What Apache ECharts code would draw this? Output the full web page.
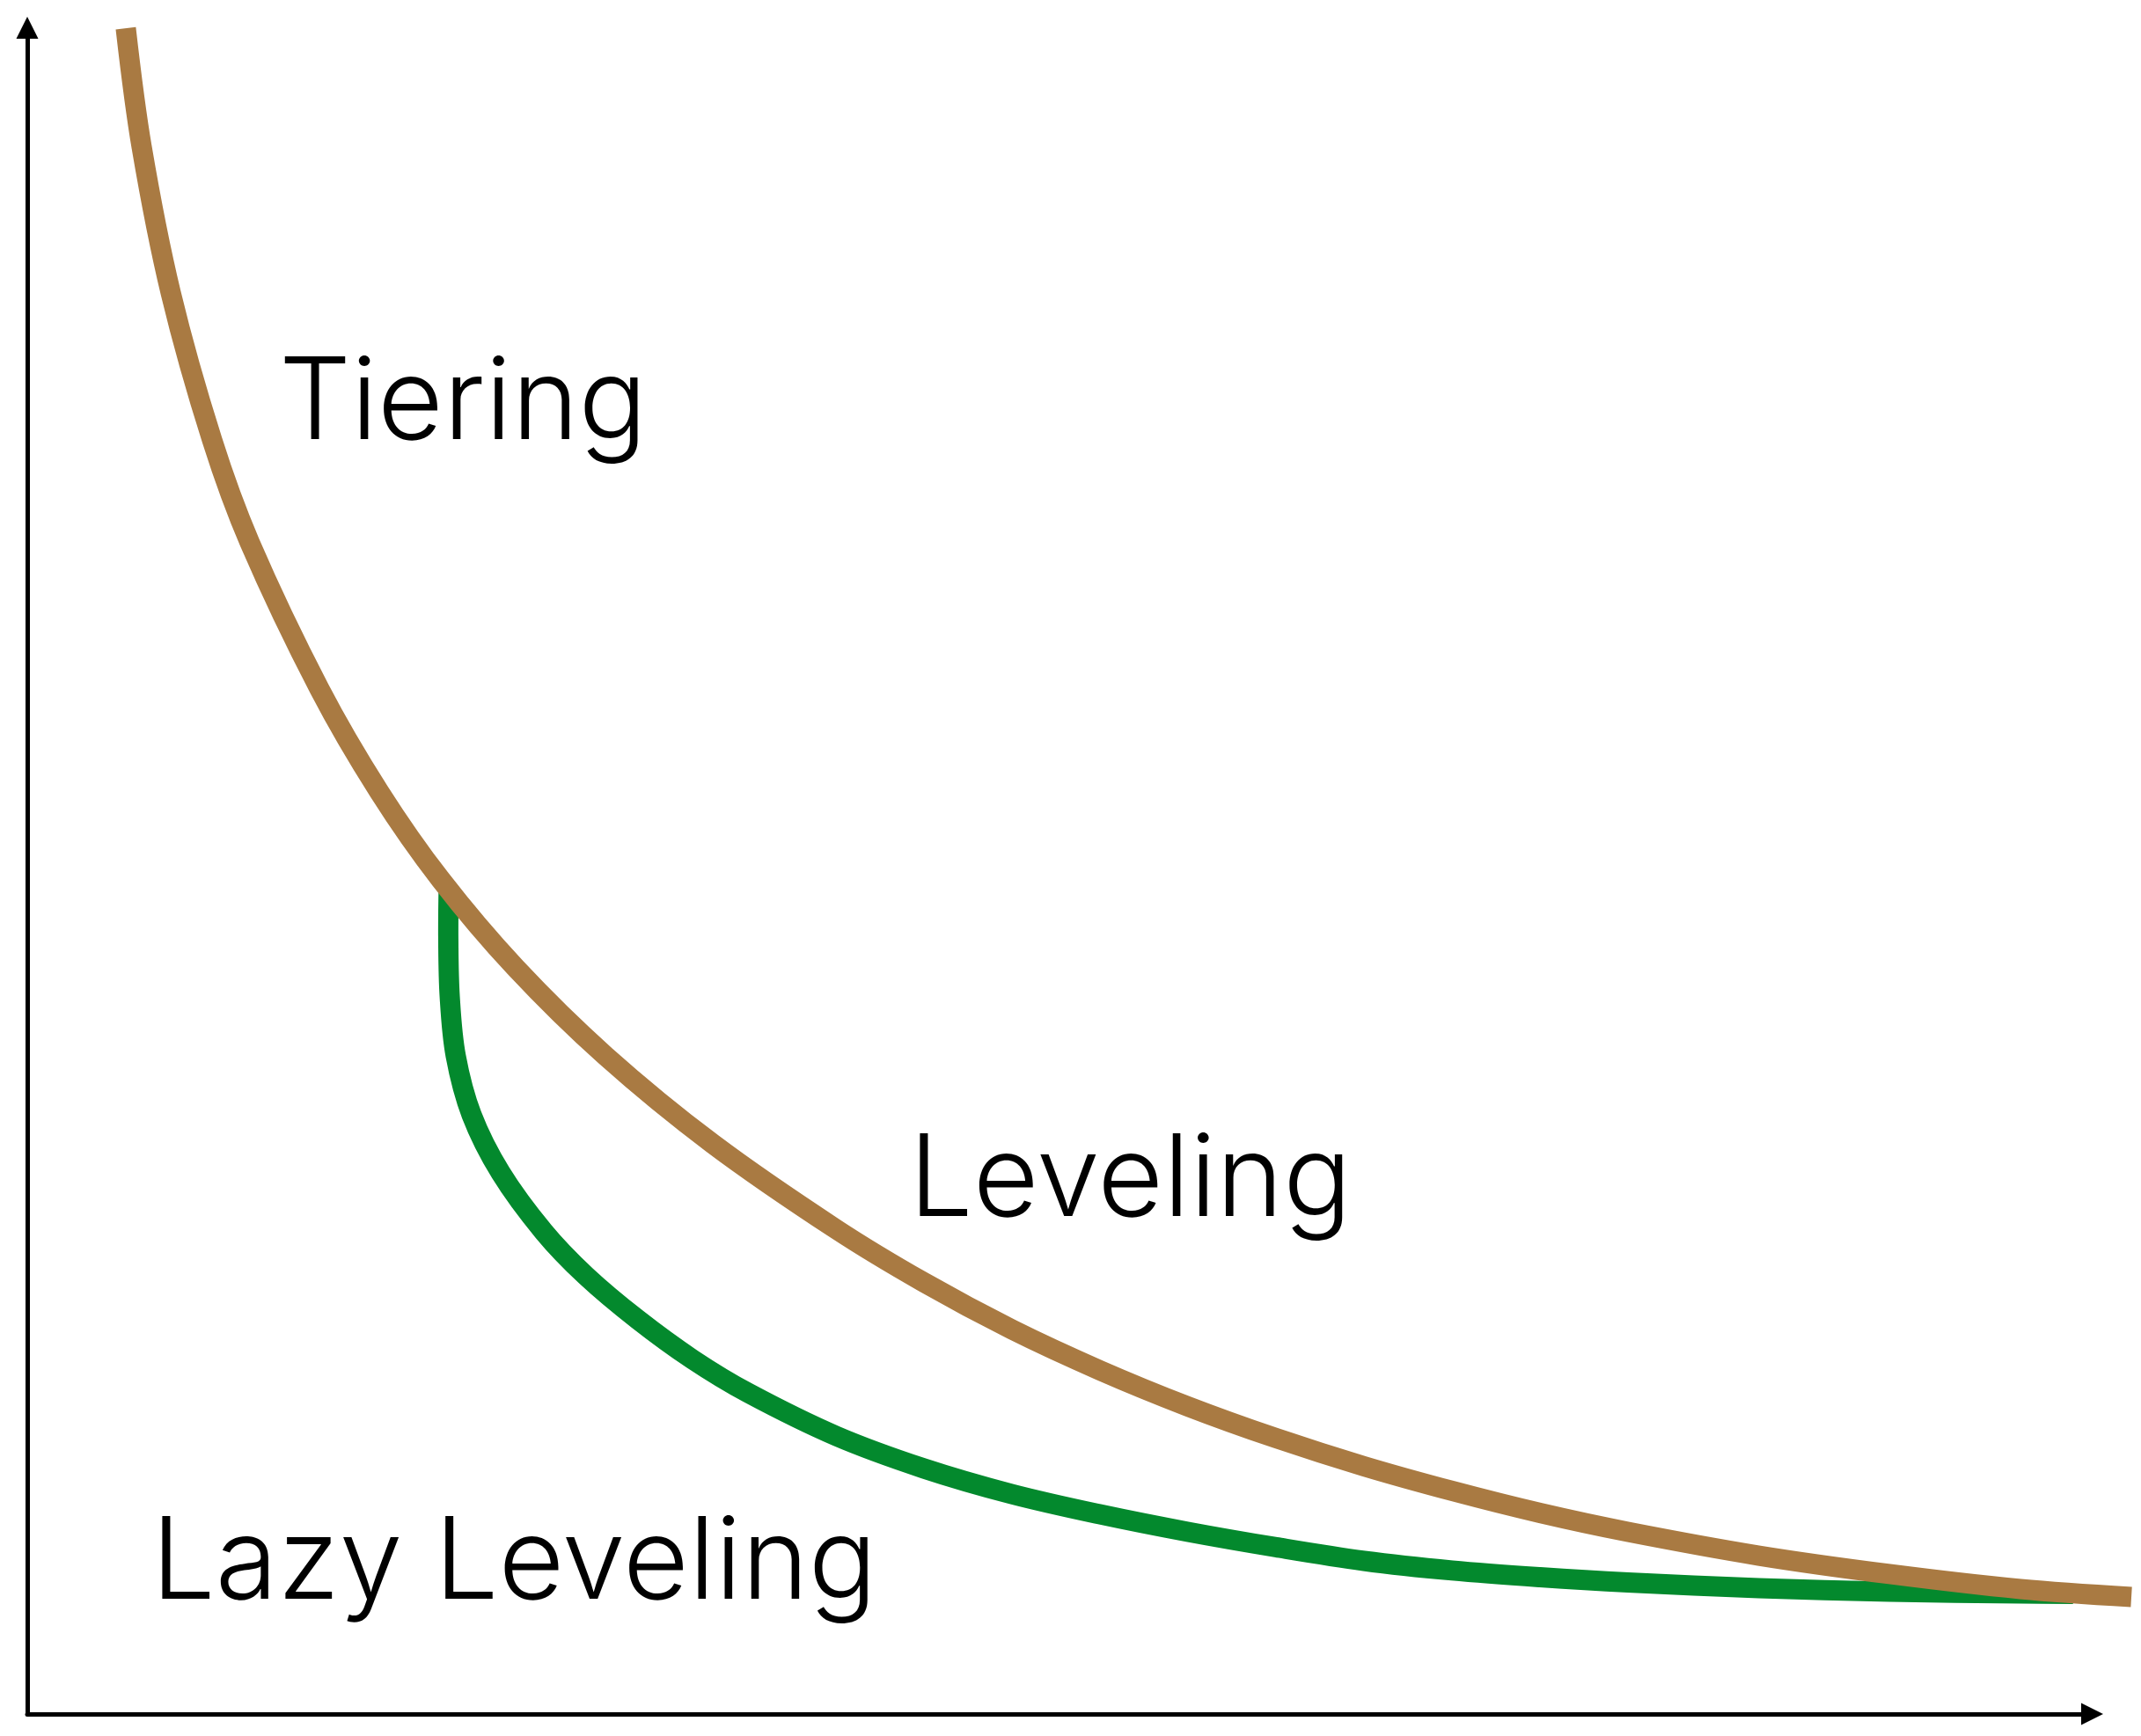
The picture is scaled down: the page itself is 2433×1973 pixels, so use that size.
<!DOCTYPE html>
<html lang="en">
<head>
    <meta charset="UTF-8">
    <title>Tiering / Leveling / Lazy Leveling</title>
    <script src="https://cdn.jsdelivr.net/npm/echarts@6/dist/echarts.min.js"></script>
    <style>
        html, body { margin: 0; padding: 0; background: #fff; }
    </style>
</head>
<body>
    <div id="box" style="width: 2433px; height: 1973px;"></div>
    <script>
        // values; both axes run 0..100 (no ticks shown)
        var levelingX = [4.77, 5.54, 6.95, 8.95, 10.78, 14.15, 17.05, 20.03, 23.65, 28.00, 33.20, 39.17, 43.43,
            47.69, 51.95, 56.21, 60.47, 64.74, 69.00, 73.26, 77.52, 83.87, 90.18, 96.53, 101.90];
        var levelingY = [99.97, 92.93, 84.27, 75.55, 69.45, 60.79, 54.68, 49.47, 44.25, 39.03, 33.81, 28.75, 25.59,
            22.80, 20.38, 18.24, 16.36, 14.69, 13.23, 11.92, 10.80, 9.39, 8.30, 7.41, 6.94];

        var lazyX = [20.41, 20.39, 20.46, 20.75, 21.52, 22.93, 25.02, 27.06, 29.58, 32.22, 34.90, 39.17, 43.43,
            47.69, 51.95, 56.21, 60.47, 64.74, 69.00, 73.26, 77.52, 83.87, 90.18, 96.53, 99.08];
        var lazyY = [49.05, 45.97, 42.53, 39.03, 35.53, 32.09, 28.59, 25.98, 23.38, 21.03, 19.05, 16.49, 14.56,
            13.04, 11.84, 10.80, 9.89, 9.08, 8.51, 8.11, 7.80, 7.46, 7.25, 7.15, 7.12];

        var labels = ['Tiering', 'Leveling', 'Lazy Leveling'];

        function pairs(xs, ys) {
            return xs.map(function (x, i) { return [x, ys[i]]; });
        }

        var myEcharts = echarts.init(document.getElementById('box'));

        // one smooth stroke through all points of the series (line series smoothing kinks here)
        function curve(name, xs, ys, color) {
            return {
                name: name,
                type: 'custom',
                xAxisIndex: 0,
                yAxisIndex: 0,
                clip: false,
                data: pairs(xs, ys),
                encode: { x: 0, y: 1 },
                renderItem: function (params, api) {
                    if (params.dataIndexInside !== 0) return null;
                    var pts = [];
                    for (var i = 0; i < params.dataInsideLength; i++) {
                        pts.push(api.coord([api.value(0, i), api.value(1, i)]));
                    }
                    return {
                        type: 'polyline',
                        shape: { points: pts, smooth: 0.35 },
                        style: { stroke: color, lineWidth: 23, fill: 'none', lineCap: 'butt', lineJoin: 'round' }
                    };
                }
            };
        }

        // same scale on both grids: 23.465 px per x unit, 19.165 px per y unit
        // grid 0 holds the curves (a little wider so the brown tail passes the arrow)
        // grid 1 only draws the two arrowed axes
        var hidden = {
            axisLine: { show: false },
            axisTick: { show: false },
            axisLabel: { show: false },
            splitLine: { show: false }
        };
        var arrowLine = {
            show: true,
            symbol: ['none', 'triangle'],
            symbolSize: [25, 25],
            lineStyle: { color: '#000', width: 5 }
        };

        var font = '300 129px Inter, Roboto, "Liberation Sans", Arial, sans-serif';

        var option = {
            backgroundColor: '#fff',
            animation: false,
            grid: [
                { left: 31, right: 8.6, top: 31.5, bottom: 25 },
                { left: 31, right: 55.5, top: 31.5, bottom: 25 }
            ],
            xAxis: [
                Object.assign({ type: 'value', gridIndex: 0, min: 0, max: 102 }, hidden),
                { type: 'value', gridIndex: 1, min: 0, max: 100, axisLine: arrowLine,
                  axisTick: { show: false }, axisLabel: { show: false }, splitLine: { show: false } }
            ],
            yAxis: [
                Object.assign({ type: 'value', gridIndex: 0, min: 0, max: 100 }, hidden),
                { type: 'value', gridIndex: 1, min: 0, max: 100, axisLine: arrowLine,
                  axisTick: { show: false }, axisLabel: { show: false }, splitLine: { show: false } }
            ],
            graphic: [
                { type: 'text', left: 317, top: 396, style: { text: labels[0], font: font, fill: '#000' } },
                { type: 'text', left: 1033, top: 1279, style: { text: labels[1], font: font, fill: '#000' } },
                { type: 'text', left: 172, top: 1714, style: { text: labels[2], font: font, fill: '#000' } }
            ],
            series: [
                curve(labels[2], lazyX, lazyY, '#03892d'),
                curve(labels[1], levelingX, levelingY, '#a97a42')
            ]
        };
        myEcharts.setOption(option);
    </script>
</body>
</html>
